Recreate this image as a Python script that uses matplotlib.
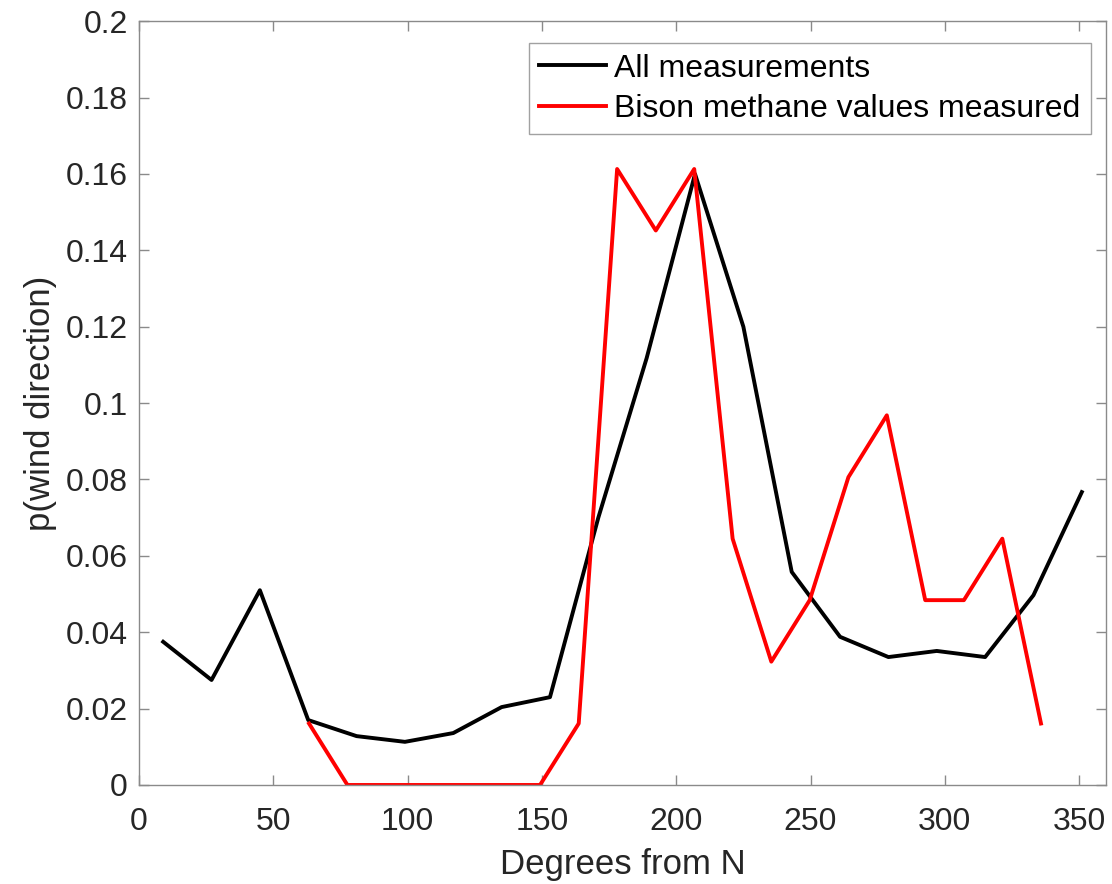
import numpy as np
import matplotlib
matplotlib.use('Agg')
import matplotlib.pyplot as plt

plt.rcParams['font.family'] = ['Liberation Sans', 'DejaVu Sans']

# all measurements, 18 degree bins
deg_all = [9, 27, 45, 63, 81, 99, 117, 135, 153, 171,
           189, 207, 225, 243, 261, 279, 297, 315, 333, 351]
p_all = [0.0375, 0.0275, 0.051, 0.017, 0.0128, 0.0113, 0.0136, 0.0204, 0.023, 0.070,
         0.1118, 0.160, 0.120, 0.0558, 0.0388, 0.0335, 0.0351, 0.0335, 0.0497, 0.0767]

# bison methane values measured
deg_bison = [63.3, 77.6, 92.0, 106.3, 120.7, 135.0, 149.3, 163.7, 178.0, 192.4,
             206.7, 221.0, 235.4, 249.7, 264.1, 278.4, 292.7, 307.1, 321.4, 335.8]
p_bison = [0.0161, 0, 0, 0, 0, 0, 0, 0.0161, 0.1613, 0.1452,
           0.1613, 0.0645, 0.0323, 0.0484, 0.0806, 0.0968, 0.0484, 0.0484, 0.0645, 0.0161]

fig = plt.figure(figsize=(11.12, 8.84), dpi=100)
ax = fig.add_axes([0.125, 0.112, 0.8696, 0.864])

ax.plot(deg_all, p_all, color='k', lw=2.8, label='All measurements')
ax.plot(deg_bison, p_bison, color='#ff0000', lw=2.8, label='Bison methane values measured')

ax.set_xlim(0, 360)
ax.set_ylim(0, 0.2)
ax.set_xticks(np.arange(0, 351, 50))
ax.set_yticks(np.arange(0, 0.201, 0.02))
ax.set_yticklabels(['0', '0.02', '0.04', '0.06', '0.08', '0.1',
                    '0.12', '0.14', '0.16', '0.18', '0.2'])

for s in ax.spines.values():
    s.set_color('#8a8a8a')
    s.set_linewidth(1.0)
ax.tick_params(direction='in', length=7, width=1.0, color='#8a8a8a',
               top=True, right=True, labelsize=23, labelcolor='#262626')
ax.tick_params(axis='x', pad=16)
ax.tick_params(axis='y', pad=8)

ax.set_xlabel('Degrees from N', fontsize=25, color='#262626', labelpad=8)
ax.set_ylabel('p(wind direction)', fontsize=25, color='#262626', labelpad=6)

leg = ax.legend(loc='upper right', bbox_to_anchor=(0.984, 0.971), fontsize=23,
                frameon=True, fancybox=False, edgecolor='#8a8a8a',
                handlelength=2.1, handletextpad=0.25, borderpad=0.32,
                labelspacing=0.33, borderaxespad=0)
leg.get_frame().set_linewidth(1.0)

fig.savefig('out.png', dpi=100)
